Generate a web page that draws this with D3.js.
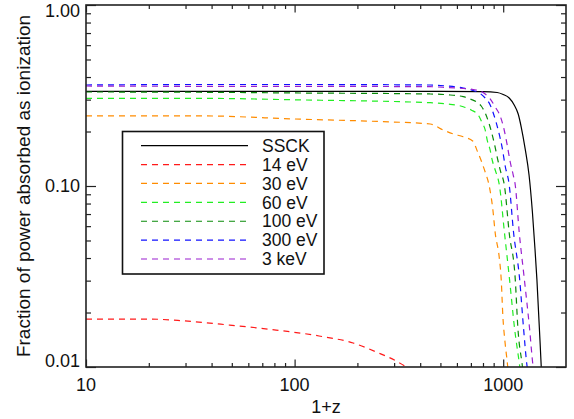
<!DOCTYPE html>
<html>
<head>
<meta charset="utf-8">
<script src="https://cdn.jsdelivr.net/npm/d3@7"></script>
<style>
  html, body { margin: 0; padding: 0; background: #fff; }
  svg { display: block; }
  text { font-family: "Liberation Sans", Arial, Helvetica, sans-serif; fill: #111; }
</style>
</head>
<body>
<svg id="chart" width="574" height="419"></svg>
<script>
// Fraction of deposited power that goes into ionization vs. 1+z
const xDomain = [10, 2000];
const yDomain = [0.01, 1];

const xMajorTicks = [10, 100, 1000];
const xMinorTicks = [20, 30, 40, 50, 60, 70, 80, 90, 200, 300, 400, 500, 600, 700, 800, 900];
const yMajorTicks = [0.01, 0.1, 1];
const yMinorTicks = [0.02, 0.03, 0.04, 0.05, 0.06, 0.07, 0.08, 0.09, 0.2, 0.3, 0.4, 0.5, 0.6, 0.7, 0.8, 0.9];
const xTickLabels = ["10", "100", "1000"];
const yTickLabels = ["0.01", "0.10", "1.00"];

const seriesNames = ["SSCK", "14 eV", "30 eV", "60 eV", "100 eV", "300 eV", "3 keV"];
const seriesColors = ["#000000", "#ff1a1a", "#ff8c00", "#22ee22", "#0a8a0a", "#1010ff", "#9a1fd0"];

// [1+z, fraction] pairs
const ssck = [[10, 0.333], [100, 0.333], [500, 0.333], [800, 0.332], [935.7, 0.3285], [1000, 0.3202],
  [1068.6, 0.3063], [1129, 0.2803], [1180, 0.2498], [1220, 0.2118], [1275, 0.160], [1330, 0.115],
  [1380, 0.072], [1420, 0.045], [1451, 0.0303], [1522, 0.01], [1545, 0.007]];
const ev14 = [[10, 0.0184], [20, 0.0184], [29.2, 0.0180], [48.5, 0.01706], [81.5, 0.0160], [131, 0.01484],
  [190.8, 0.01357], [246, 0.01211], [307, 0.01079], [342.6, 0.01], [380, 0.009]];
const ev30 = [[10, 0.244], [35.2, 0.244], [106, 0.234], [257, 0.227], [447, 0.220], [515, 0.204],
  [576, 0.194], [643, 0.187], [714, 0.1772], [754.6, 0.154], [788.6, 0.1357], [819.6, 0.1195],
  [857, 0.100], [892.5, 0.0737], [915.5, 0.055], [956.8, 0.0405], [978, 0.0306], [996.7, 0.0189],
  [1019, 0.0139], [1049, 0.01026], [1060, 0.009]];
const ev60 = [[10, 0.305], [35.2, 0.305], [106, 0.299], [447, 0.2885], [556.8, 0.2827], [643, 0.2742],
  [702.3, 0.263], [758.9, 0.2468], [793, 0.2229], [819.6, 0.204], [838, 0.1795], [866, 0.158],
  [885.6, 0.1392], [915.5, 0.1226], [960, 0.100], [1014.4, 0.055], [1072, 0.0306], [1133, 0.01642],
  [1197.5, 0.01026], [1215, 0.009]];
const ev100 = [[10, 0.3307], [35.2, 0.3295], [106, 0.3265], [447, 0.3224], [557, 0.3183], [643, 0.3115],
  [694.5, 0.3025], [750.6, 0.290], [784.5, 0.2767], [819.6, 0.2531], [847.6, 0.2286], [876, 0.2013],
  [905.6, 0.1728], [935.7, 0.1446], [967, 0.1226], [1014.4, 0.100], [1068.6, 0.055], [1142, 0.0306],
  [1176, 0.01642], [1233.6, 0.01026], [1250, 0.009]];
const ev300 = [[10, 0.3614], [35.2, 0.3637], [106, 0.3637], [447, 0.3614], [538.6, 0.3568], [643, 0.3478],
  [718, 0.3370], [776, 0.3244], [819.6, 0.3063], [866, 0.2803], [905.6, 0.2436], [946.2, 0.2039],
  [989, 0.1622], [1022, 0.129], [1068.6, 0.1013], [1120.5, 0.0557], [1197.5, 0.031], [1251.5, 0.01642],
  [1299, 0.01026], [1320, 0.009]];
const kev3 = [[10, 0.3568], [35.2, 0.3554], [106, 0.3554], [447, 0.3536], [538.6, 0.350], [643, 0.3456],
  [718, 0.3412], [776, 0.3348], [819.6, 0.3224], [866, 0.3025], [915.5, 0.2732], [967, 0.2436],
  [1011, 0.2039], [1045, 0.1685], [1080.5, 0.1357], [1117, 0.115], [1142, 0.1013], [1193, 0.0557],
  [1261, 0.031], [1337, 0.01642], [1388, 0.01026], [1410, 0.009]];

const seriesData = [ssck, ev14, ev30, ev60, ev100, ev300, kev3];

const svg = d3.select("#chart");
const margin = { left: 86, right: 8, top: 5, bottom: 52 };
const W = 574, H = 419;
const x0 = margin.left, x1 = W - margin.right;
const y0 = margin.top, y1 = H - margin.bottom;

const x = d3.scaleLog().domain(xDomain).range([x0, x1]);
const y = d3.scaleLog().domain(yDomain).range([y1, y0]);

// clip region for the curves
svg.append("defs").append("clipPath").attr("id", "plotClip")
  .append("rect").attr("x", x0).attr("y", y0).attr("width", x1 - x0).attr("height", y1 - y0);

const line = d3.line()
  .x(d => x(d[0]))
  .y(d => y(d[1]))
  .curve(d3.curveMonotoneX);

const curves = svg.append("g").attr("clip-path", "url(#plotClip)");
seriesData.forEach((data, i) => {
  curves.append("path")
    .datum(data)
    .attr("d", line)
    .attr("fill", "none")
    .attr("stroke", seriesColors[i])
    .attr("stroke-width", 1.2)
    .attr("stroke-dasharray", i === 0 ? null : "6,5");
});

// axes: major and minor ticks pointing into the plot on all four sides
const axisColor = "#222";
const xMajLen = 7.5, xMinLen = 4, yMajLen = 10, yMinLen = 5;

function styleAxis(g) {
  g.select(".domain").remove();
  g.selectAll(".tick line").attr("stroke", axisColor).attr("stroke-width", 1.2);
  g.selectAll(".tick text").remove();
}

svg.append("g").attr("transform", `translate(0,${y1})`)
  .call(d3.axisBottom(x).tickValues(xMajorTicks).tickSize(-xMajLen)).call(styleAxis);
svg.append("g").attr("transform", `translate(0,${y1})`)
  .call(d3.axisBottom(x).tickValues(xMinorTicks).tickSize(-xMinLen)).call(styleAxis);
svg.append("g").attr("transform", `translate(0,${y0})`)
  .call(d3.axisTop(x).tickValues(xMajorTicks).tickSize(-xMajLen)).call(styleAxis);
svg.append("g").attr("transform", `translate(0,${y0})`)
  .call(d3.axisTop(x).tickValues(xMinorTicks).tickSize(-xMinLen)).call(styleAxis);

svg.append("g").attr("transform", `translate(${x0},0)`)
  .call(d3.axisLeft(y).tickValues(yMajorTicks).tickSize(-yMajLen)).call(styleAxis);
svg.append("g").attr("transform", `translate(${x0},0)`)
  .call(d3.axisLeft(y).tickValues(yMinorTicks).tickSize(-yMinLen)).call(styleAxis);
svg.append("g").attr("transform", `translate(${x1},0)`)
  .call(d3.axisRight(y).tickValues(yMajorTicks).tickSize(-yMajLen)).call(styleAxis);
svg.append("g").attr("transform", `translate(${x1},0)`)
  .call(d3.axisRight(y).tickValues(yMinorTicks).tickSize(-yMinLen)).call(styleAxis);

// plot frame
svg.append("rect")
  .attr("x", x0).attr("y", y0).attr("width", x1 - x0).attr("height", y1 - y0)
  .attr("fill", "none").attr("stroke", axisColor).attr("stroke-width", 1.6);

// tick labels
const tickFs = 18;
svg.append("g").selectAll("text").data(xMajorTicks).join("text")
  .attr("x", d => x(d)).attr("y", y1 + 24)
  .attr("text-anchor", "middle").attr("font-size", tickFs)
  .text((d, i) => xTickLabels[i]);

// y labels sit inside the axis range at the ends
const yLabelOffset = [-0.5, 6, 11.5];
svg.append("g").selectAll("text").data(yMajorTicks).join("text")
  .attr("x", x0 - 6).attr("y", (d, i) => y(d) + yLabelOffset[i])
  .attr("text-anchor", "end").attr("font-size", tickFs)
  .text((d, i) => yTickLabels[i]);

// axis titles
svg.append("text")
  .attr("x", (x0 + x1) / 2).attr("y", 413)
  .attr("text-anchor", "middle").attr("font-size", 18)
  .text("1+z");
svg.append("text")
  .attr("transform", `translate(30,${(y0 + y1) / 2}) rotate(-90)`)
  .attr("text-anchor", "middle").attr("font-size", 19)
  .text("Fraction of power absorbed as ionization");

// legend
const lg = { left: 122.5, top: 131.5, right: 324, bottom: 274 };
const legend = svg.append("g");
legend.append("rect")
  .attr("x", lg.left).attr("y", lg.top)
  .attr("width", lg.right - lg.left).attr("height", lg.bottom - lg.top)
  .attr("fill", "#fff").attr("stroke", "#111").attr("stroke-width", 1.6);

const rowY = d3.scaleLinear().domain([0, seriesNames.length - 1]).range([145.7, 259]);
seriesNames.forEach((name, i) => {
  const yy = rowY(i);
  legend.append("line")
    .attr("x1", 141).attr("x2", 248).attr("y1", yy).attr("y2", yy)
    .attr("stroke", seriesColors[i]).attr("stroke-width", 1.2)
    .attr("stroke-dasharray", i === 0 ? null : "6,5");
  legend.append("text")
    .attr("x", 262).attr("y", yy + 6.2)
    .attr("font-size", 17.5)
    .text(name);
});
</script>
</body>
</html>
